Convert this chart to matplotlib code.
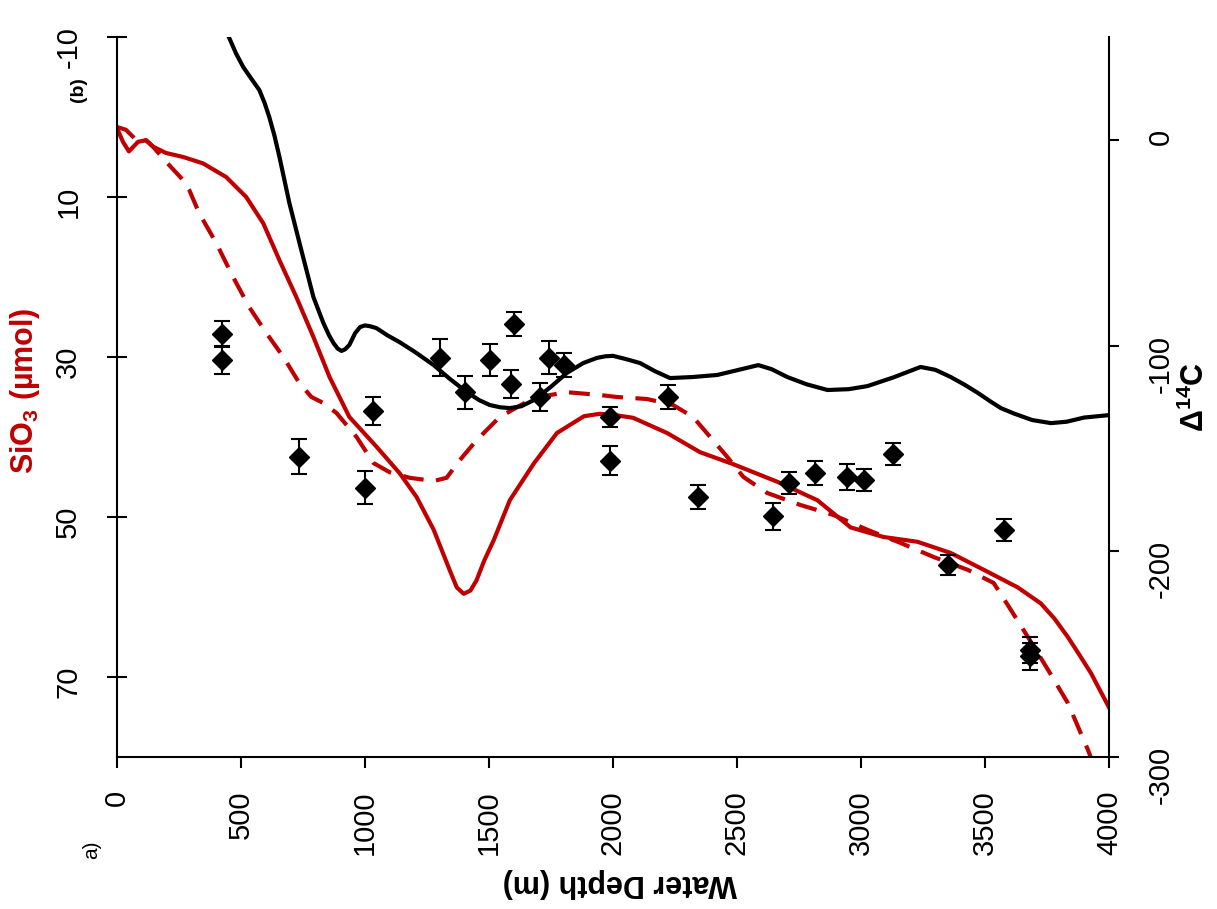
import matplotlib
matplotlib.use("Agg")
import matplotlib.pyplot as plt

plt.rcParams["font.family"] = ["Liberation Sans", "DejaVu Sans"]
plt.rcParams["axes.unicode_minus"] = False
plt.rcParams["mathtext.fontset"] = "custom"
plt.rcParams["mathtext.rm"] = "Liberation Sans"
plt.rcParams["mathtext.bf"] = "Liberation Sans:bold"

RED = "#C00000"

# Δ14C model (black line), right axis
c14_depth = [440, 480, 509, 540, 574, 595, 614, 635, 655, 695, 743, 792, 832,
             855, 873, 890, 905, 920, 937, 960, 980, 1000, 1020, 1046, 1090,
             1139, 1200, 1277, 1340, 1410, 1460, 1503, 1545, 1584, 1630,
             1681, 1750, 1814, 1880, 1935, 1970, 2000, 2050, 2109, 2170,
             2230, 2320, 2420, 2500, 2586, 2640, 2703, 2780, 2865, 2950,
             3026, 3130, 3240, 3300, 3362, 3420, 3471, 3520, 3564, 3616,
             3690, 3766, 3830, 3899, 4000]
c14_model = [53, 42, 35.4, 30, 24.2, 18, 11.1, 2, -8.3, -30.7, -53.5, -76.4,
             -89, -95, -98.8, -101.5, -102.6, -101.8, -99.7, -94, -91, -90.2,
             -90.6, -91.5, -95, -98.3, -103, -109.5, -116, -122.6, -126.5,
             -128.9, -130, -130.4, -129.5, -126.5, -120, -113.3, -108.5,
             -106, -105.2, -105, -106.5, -108.5, -112.5, -115.8, -115.3,
             -114.3, -112, -109.5, -111.5, -115.3, -118.8, -121.6, -121.2,
             -119.7, -115.5, -110.4, -111.8, -115.3, -119.2, -123, -127,
             -130.4, -133, -136.2, -137.7, -137, -135, -133.8]

# SiO3 model, solid red line, left axis
si_depth = [0, 24, 48, 85, 117, 145, 198, 267, 347, 440, 521, 590, 655, 723,
            792, 857, 937, 1046, 1139, 1208, 1277, 1341, 1370, 1398, 1425,
            1450, 1480, 1519, 1584, 1681, 1774, 1883, 1947, 2016, 2081,
            2218, 2351, 2485, 2663, 2824, 2958, 3091, 3228, 3362, 3495,
            3632, 3725, 3780, 3834, 3880, 3927, 4000]
si_solid = [1.4, 3.1, 4.3, 3.1, 2.9, 3.7, 4.5, 5.0, 5.8, 7.5, 10.0, 13.3,
            17.9, 22.5, 27.5, 32.5, 37.5, 41.2, 44.5, 47.5, 51.6, 56.6, 58.8,
            59.6, 59.2, 57.9, 55.5, 52.9, 47.9, 43.3, 39.5, 37.4, 37.1, 37.3,
            37.6, 39.5, 41.9, 43.4, 45.6, 47.9, 51.3, 52.5, 53.1, 54.5, 56.6,
            58.8, 60.8, 62.7, 65.0, 67.2, 69.5, 73.8]

# SiO3 model, dashed red line, left axis
si_depth_d = [0, 36, 85, 117, 145, 198, 267, 291, 331, 400, 468, 533, 602,
              671, 735, 784, 832, 885, 966, 1034, 1099, 1180, 1277, 1329,
              1382, 1450, 1543, 1681, 1814, 1947, 2016, 2137, 2242, 2323,
              2392, 2461, 2526, 2622, 2756, 2889, 3026, 3160, 3293, 3430,
              3535, 3604, 3673, 3754, 3834, 3915, 3950]
si_dashed = [1.25, 1.6, 3.1, 2.9, 3.7, 5.6, 7.9, 9.1, 12.0, 15.75, 20.0,
             23.75, 27.0, 30.0, 33.25, 35.0, 35.75, 37.0, 40.0, 43.25, 44.4,
             45.1, 45.5, 45.1, 42.9, 40.4, 37.5, 35.1, 34.4, 34.75, 35.0,
             35.25, 36.0, 37.5, 40.0, 42.5, 45.0, 47.0, 48.5, 49.75, 51.6,
             53.25, 55.0, 56.6, 58.25, 61.6, 65.0, 69.1, 73.25, 79.1, 82.0]

# Δ14C measurements with error bars, right axis
obs_depth = [425, 425, 735, 998, 1034, 1301, 1402, 1503, 1588, 1600, 1705,
             1741, 1802, 1988, 1988, 2222, 2343, 2646, 2711, 2816, 2945,
             3014, 3131, 3349, 3576, 3681, 3681]
obs_c14 = [-94.4, -107, -154, -169, -131.8, -106, -122.6, -107, -118.7,
           -89.5, -125, -106, -109.5, -134.7, -156, -125, -173.6, -183,
           -166.8, -162, -163.9, -165.4, -152.7, -206.7, -189.7, -248, -251]
obs_err = [6.5, 7, 8.5, 8, 7, 9, 8, 8, 7, 6, 7, 8, 6, 5, 7, 6, 6, 6.5, 5.5,
           6, 6.5, 5.5, 5.5, 5, 5.5, 6.5, 6.5]

depth_ticks = [0, 500, 1000, 1500, 2000, 2500, 3000, 3500, 4000]
si_ticks = [-10, 10, 30, 50, 70]
c14_ticks = [0, -100, -200, -300]

fig = plt.figure(figsize=(12.17, 9.09), dpi=100)
ax = fig.add_axes([117 / 1217, 1 - 757 / 909, 992 / 1217, 720 / 909])
ax2 = ax.twinx()

ax.plot(si_depth, si_solid, color=RED, lw=3)
ax.plot(si_depth_d, si_dashed, color=RED, lw=3, dashes=(5, 3))
ax2.plot(c14_depth, c14_model, color="black", lw=3)
ax2.errorbar(obs_depth, obs_c14, yerr=obs_err, fmt="D", color="black",
             ms=10, capsize=6, elinewidth=1.5, capthick=1.5)

ax.set_xlim(0, 4000)
ax.set_ylim(80, -10)
ax2.set_ylim(-300, 50)

ax.set_xticks(depth_ticks)
ax.set_yticks(si_ticks)
ax2.set_yticks(c14_ticks)

ax.tick_params(axis="x", direction="out", length=8, width=1.5, pad=16,
               labelsize=21, labelrotation=90)
ax.tick_params(axis="y", direction="inout", length=14, width=1.5, pad=18,
               labelsize=21, labelrotation=90)
ax2.tick_params(axis="y", direction="out", length=7, width=1.5, pad=20,
                labelsize=21, labelrotation=90)

for s in ["top", "right"]:
    ax.spines[s].set_visible(False)
for s in ["top", "left", "bottom"]:
    ax2.spines[s].set_visible(False)
for s in ["left", "bottom"]:
    ax.spines[s].set_linewidth(1.5)
ax2.spines["right"].set_linewidth(1.5)

fig.text(25 / 1217, 1 - 391 / 909, "SiO$_\\mathbf{3}$ (µmol)", color=RED,
         fontsize=22, fontweight="bold", rotation=90, ha="center", va="center")
fig.text(620 / 1217, 1 - 883 / 909, "Water Depth (m)", fontsize=22,
         fontweight="bold", rotation=180, ha="center", va="center")
fig.text(1195 / 1217, 1 - 397 / 909, "Δ$^\\mathbf{14}$C", fontsize=22,
         fontweight="bold", rotation=90, ha="center", va="center")
fig.text(78 / 1217, 1 - 90 / 909, "(b)", fontsize=14, fontweight="bold",
         rotation=90, ha="center", va="center")
fig.text(92 / 1217, 1 - 850 / 909, "a)", fontsize=15, rotation=90,
         ha="center", va="center")

fig.savefig("out.png", dpi=100)
